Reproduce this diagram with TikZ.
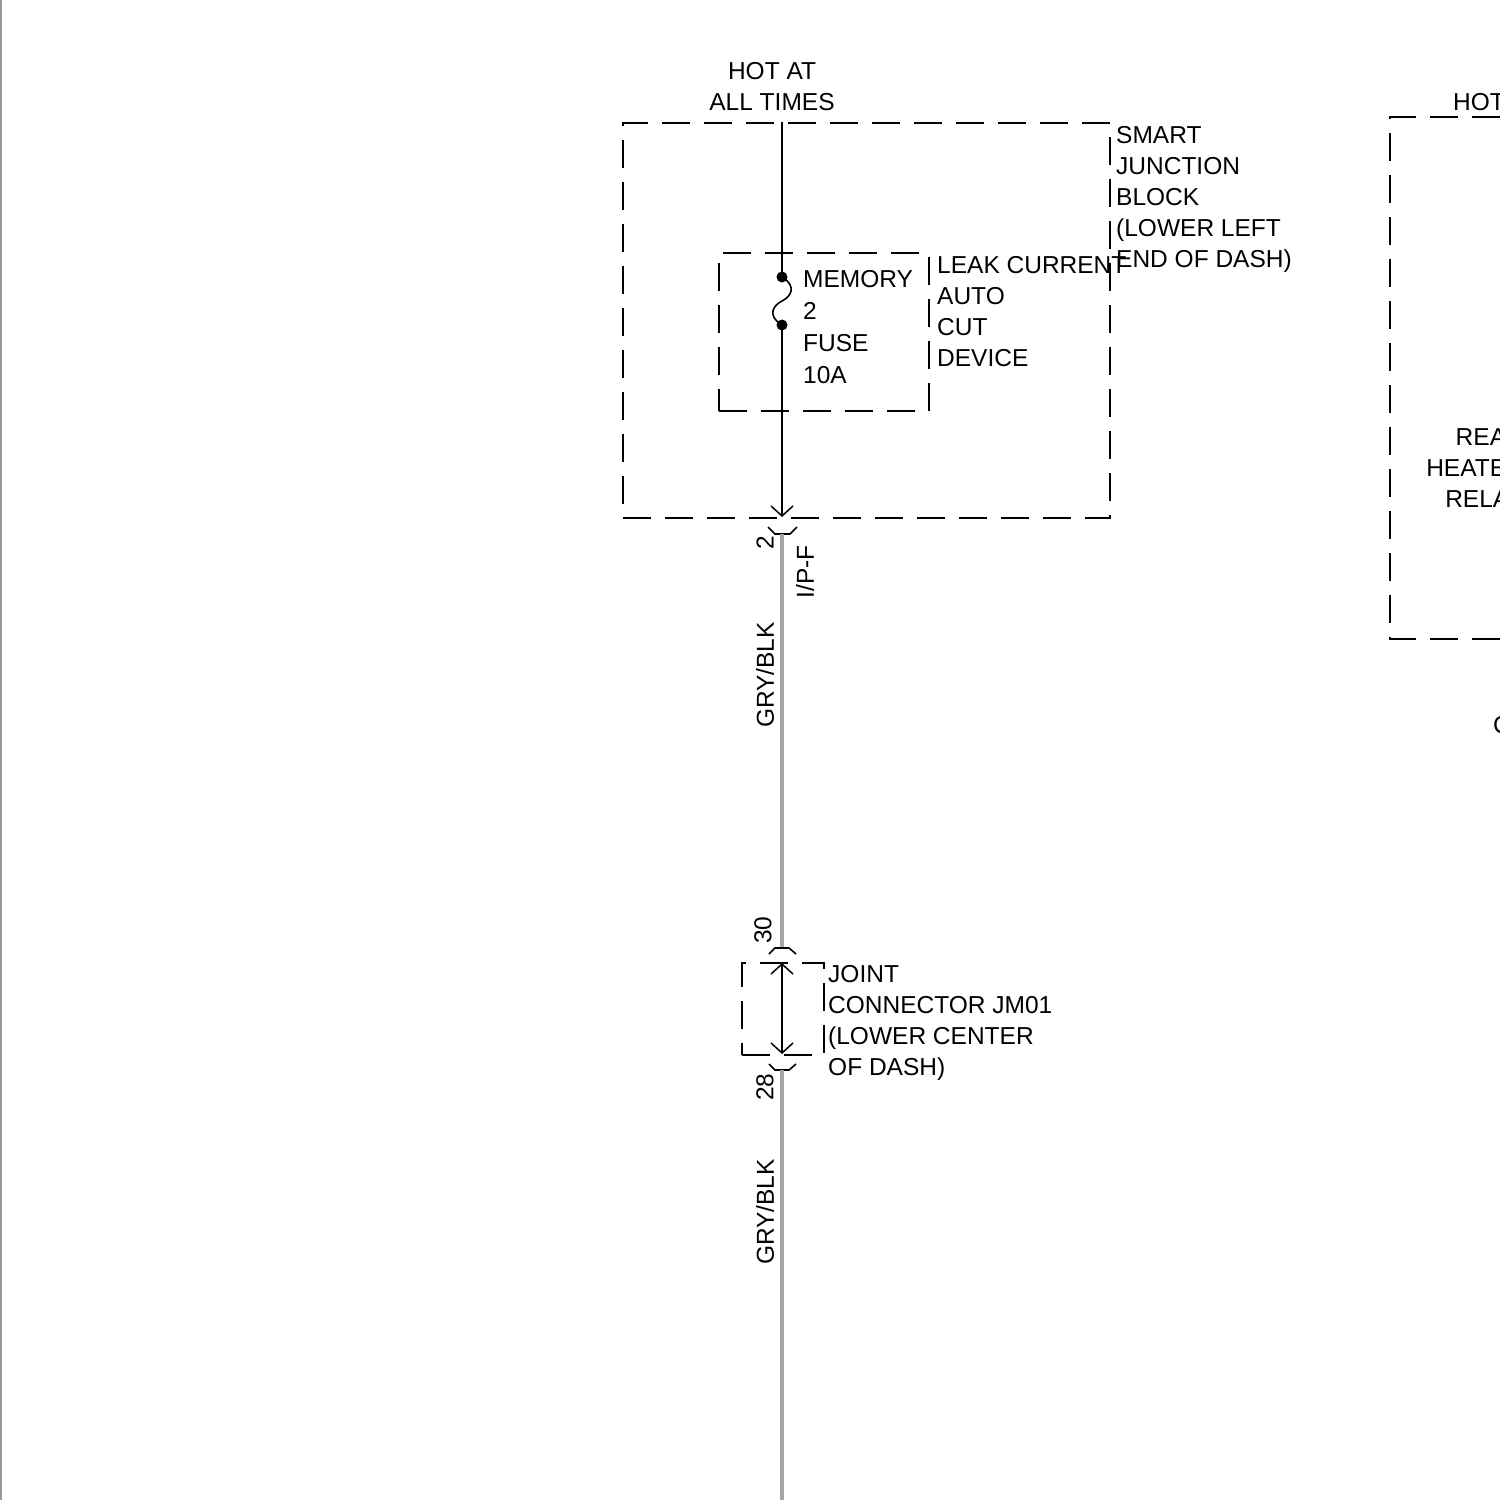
\documentclass[tikz,border=0pt]{standalone}
\usepackage{fontspec}
\setmainfont{Liberation Sans}
\usetikzlibrary{arrows.meta}
\begin{document}
\begin{tikzpicture}[x=1pt,y=-1pt,
  lbl/.style={font=\fontsize{24.5}{31}\selectfont, inner sep=0pt, align=left, anchor=north west},
  rlbl/.style={font=\fontsize{24.5}{31}\selectfont, inner sep=0pt, rotate=90, anchor=center},
  dbox/.style={draw, line width=1.8pt, dash pattern=on 28pt off 14pt},
  wire/.style={line width=1.6pt},
  gwire/.style={draw=gray!70, line width=3.2pt},
  barb/.tip={Straight Barb[length=10pt,width=22pt,line width=1.5pt]},
  dot/.style={circle, fill=black, inner sep=0pt, minimum size=11pt}
]
\useasboundingbox (0,0) rectangle (1500,1500);
\clip (0,0) rectangle (1500,1500);

% page edge
\draw[gray!80, line width=2pt] (1,0) -- (1,1500);

% smart junction block
\node[dbox, anchor=north west, minimum width=487pt, minimum height=395pt, inner sep=0pt] (sjb) at (622,122) {};
\node[dbox, anchor=north west, minimum width=210pt, minimum height=158pt, inner sep=0pt] (lcacd) at (718,252) {};

\node[lbl, align=center, anchor=north] (hot) at (772,62) {HOT AT\\ALL TIMES};
\node[lbl] (sjbtxt) at (1116,126) {SMART\\JUNCTION\\BLOCK\\(LOWER LEFT\\END OF DASH)};
\node[lbl] (lctxt) at (937,256) {LEAK CURRENT\\AUTO\\CUT\\DEVICE};
\node[lbl, font=\fontsize{24.5}{32}\selectfont] (fusetxt) at (803,270) {MEMORY\\2\\FUSE\\10A};

% fuse
\coordinate (hotin) at (782,122);
\node[dot] (f1) at (782,277) {};
\node[dot] (f2) at (782,325) {};
\coordinate (sjbout) at (782,517);
\draw[wire] (hotin) -- (f1.center);
\draw[wire] (f1.center) .. controls (798,287) and (790,297) .. (782,301)
                         .. controls (774,305) and (766,315) .. (f2.center);
\draw[wire, -barb] (f2.center) -- (sjbout);

% connector I/P-F pin 2
\coordinate (c2) at (782,534);
\draw[wire] (768,527) -- (775,534) -- (790,534) -- (797,527);
\node[rlbl] (p2) at (765,543) {2};
\node[rlbl] (ipf) at (805,572) {I/P-F};

% wire GRY/BLK
\coordinate (c30) at (782,948);
\draw[gwire] (c2) -- (c30);
\node[rlbl] (w1) at (765,675) {GRY/BLK};

% joint connector
\node[rlbl] (p30) at (763,930) {30};
\draw[wire] (769,954) -- (775,948) -- (789,948) -- (796,954);
\node[dbox, anchor=north west, minimum width=82pt, minimum height=92pt, inner sep=0pt] (jm) at (741,962) {};
\coordinate (jmtop) at (782,963);
\coordinate (jmbot) at (782,1054);
\draw[wire, barb-barb] (jmtop) -- (jmbot);
\node[lbl] (jmtxt) at (828,965) {JOINT\\CONNECTOR JM01\\(LOWER CENTER\\OF DASH)};
\draw[wire] (769,1064) -- (775,1070) -- (789,1070) -- (796,1064);
\node[rlbl] (p28) at (765,1087) {28};

\coordinate (c28) at (782,1070);
\coordinate (wend) at (782,1500);
\draw[gwire] (c28) -- (wend);
\node[rlbl] (w2) at (765,1212) {GRY/BLK};

% partial box at right edge
\draw[dbox] (1500,117) -- (1390,117) -- (1390,639) -- (1500,639);
\node[lbl] (hot2) at (1453,93) {HOT};
\node[lbl, align=right, anchor=north east] (rhr) at (1524,428) {REAR\\HEATER\\RELAY};
\node[lbl] (c2txt) at (1493,716) {C};
\end{tikzpicture}
\end{document}
